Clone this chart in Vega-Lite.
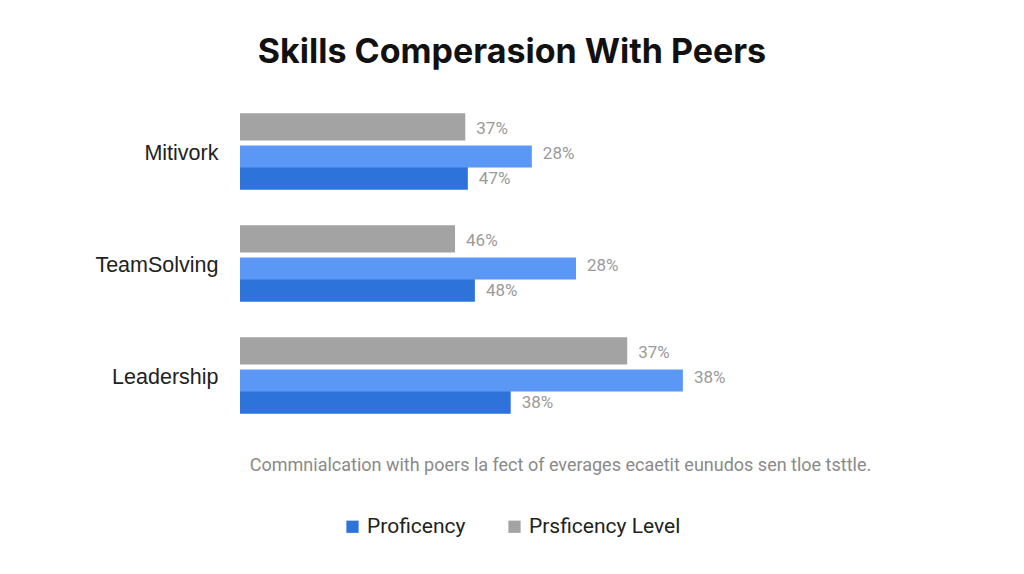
{
  "$schema": "https://vega.github.io/schema/vega-lite/v6.json",
  "autosize": {"type": "none"},
  "width": 640,
  "height": 336,
  "padding": {"left": 240, "top": 98, "right": 144, "bottom": 140},
  "background": "#ffffff",
  "config": {"font": "Roboto", "view": {"stroke": null}},
  "title": {
    "text": "Skills Comperasion With Peers",
    "fontSize": 34,
    "font": "Inter",
    "fontWeight": "bold",
    "color": "#111111",
    "anchor": "middle",
    "dx": -48,
    "offset": 28
  },
  "data": {
    "values": [
      {"skill": "Mitivork", "series": "Prsficency Level", "value": 35.2, "label": "37%"},
      {"skill": "Mitivork", "series": "Peers", "value": 45.6, "label": "28%"},
      {"skill": "Mitivork", "series": "Proficency", "value": 35.6, "label": "47%"},
      {"skill": "TeamSolving", "series": "Prsficency Level", "value": 33.6, "label": "46%"},
      {"skill": "TeamSolving", "series": "Peers", "value": 52.5, "label": "28%"},
      {"skill": "TeamSolving", "series": "Proficency", "value": 36.7, "label": "48%"},
      {"skill": "Leadership", "series": "Prsficency Level", "value": 60.5, "label": "37%"},
      {"skill": "Leadership", "series": "Peers", "value": 69.2, "label": "38%"},
      {"skill": "Leadership", "series": "Proficency", "value": 42.3, "label": "38%"}
    ]
  },
  "encoding": {
    "y": {
      "field": "skill",
      "type": "nominal",
      "sort": ["Mitivork", "TeamSolving", "Leadership"],
      "scale": {"paddingInner": 0.34, "paddingOuter": 0.17},
      "axis": {
        "title": null,
        "domain": false,
        "ticks": false,
        "labelFontSize": 21.5,
        "labelColor": "#222222",
        "labelPadding": 22,
        "labelFont": "Liberation Sans"
      }
    },
    "yOffset": {
      "field": "series",
      "type": "nominal",
      "scale": {"domain": ["Prsficency Level", "Peers", "Proficency"], "paddingInner": 0, "paddingOuter": 0}
    },
    "x": {
      "field": "value",
      "type": "quantitative",
      "scale": {"domain": [0, 100]},
      "axis": {
        "title": "Commnialcation with poers la fect of everages ecaetit eunudos sen tloe tsttle.",
        "titleFontSize": 18,
        "titleFontWeight": "normal",
        "titleColor": "#8a8a8a",
        "titlePadding": 22,
        "labels": false,
        "ticks": false,
        "domain": false,
        "grid": false
      }
    }
  },
  "layer": [
    {
      "transform": [{"filter": "datum.series !== 'Peers'"}],
      "mark": {"type": "bar", "height": {"band": 1.1}},
      "encoding": {
        "color": {
          "field": "series",
          "type": "nominal",
          "scale": {"domain": ["Proficency", "Peers", "Prsficency Level"], "range": ["#2e73da", "#5b97f4", "#a3a3a3"]},
          "legend": {
            "values": ["Proficency", "Prsficency Level"],
            "title": null,
            "orient": "none",
            "direction": "horizontal",
            "legendX": 102,
            "legendY": 418,
            "symbolType": "square",
            "symbolSize": 150,
            "symbolStrokeWidth": 0,
            "labelFontSize": 21,
            "labelColor": "#222222",
            "labelOffset": 4,
            "columnPadding": 38
          }
        }
      }
    },
    {
      "transform": [{"filter": "datum.series === 'Peers'"}],
      "mark": {"type": "bar", "height": {"band": 0.9}},
      "encoding": {
        "color": {
          "field": "series",
          "type": "nominal",
          "scale": {"domain": ["Proficency", "Peers", "Prsficency Level"], "range": ["#2e73da", "#5b97f4", "#a3a3a3"]},
          "legend": null
        }
      }
    },
    {
      "mark": {"type": "text", "align": "left", "baseline": "middle", "dx": 11, "fontSize": 17, "color": "#9a9a9a"},
      "encoding": {
        "text": {"field": "label", "type": "nominal"}
      }
    }
  ]
}
